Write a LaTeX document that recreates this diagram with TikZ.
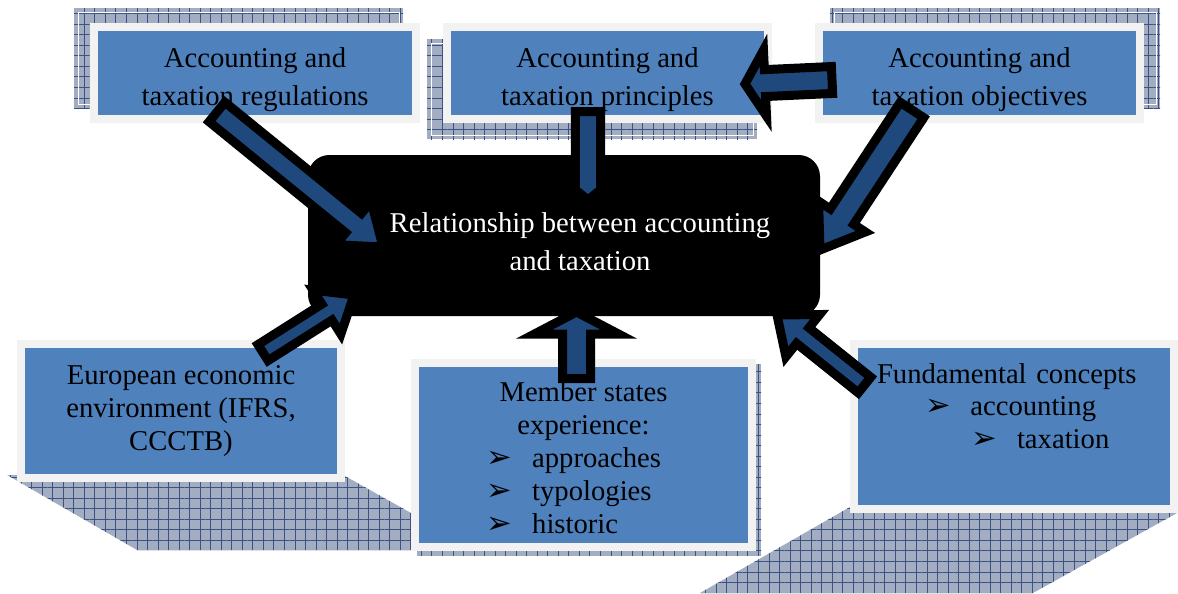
\documentclass[tikz,border=0pt]{standalone}
\usepackage{fontspec}
\setmainfont{Liberation Serif}
\newfontfamily\dingfont{DejaVu Sans}
\usepackage{tikz}
\usetikzlibrary{calc,positioning,patterns.meta,backgrounds}
\definecolor{boxblue}{HTML}{4F81BD}
\definecolor{framegray}{HTML}{F2F2F2}
\definecolor{arrblue}{HTML}{1F497D}
\definecolor{shadefill}{HTML}{A3ADC2}
\definecolor{gridblue}{HTML}{3B5282}
\newcommand{\bul}{\makebox[34pt][l]{\dingfont\fontsize{23}{23}\selectfont ➢}}
\newcommand{\itm}[1]{\makebox[145pt][l]{\bul#1}}
% block arrow: tail, tip, shaft half width, head half width, head length
\newcommand{\barrow}[5]{%
  \coordinate (hb) at ($(#2)!#5!(#1)$);
  \draw[bigarr] ($(#1)!#3!90:(#2)$) -- ($(hb)!#3!90:(#2)$) -- ($(hb)!#4!90:(#2)$) -- (#2)
    -- ($(hb)!#4!-90:(#2)$) -- ($(hb)!#3!-90:(#2)$) -- ($(#1)!#3!-90:(#2)$) -- cycle;}

\begin{document}
\begin{tikzpicture}[x=0.75pt, y=-0.75pt]
\tikzstyle{box}=[rectangle, draw=framegray, fill=boxblue, line width=6pt, inner sep=0pt,
                 minimum width=241pt, minimum height=69pt, align=center,
                 font=\fontsize{21.5}{28.5}\selectfont]
\tikzstyle{relbox}=[rectangle, fill=black, rounded corners=16pt, minimum width=384pt,
                 minimum height=120.75pt, text=white, align=center,
                 font=\fontsize{21.5}{29}\selectfont]
\tikzstyle{shade}=[preaction={fill=shadefill}, pattern={Hatch[angle=0,distance=7.9pt,line width=0.6pt]},
                 pattern color=gridblue]
\tikzstyle{bigarr}=[draw=black, fill=arrblue, line width=6.75pt, line join=miter]
\useasboundingbox (0,0) rectangle (1178,593);
%top row
\node[box] (regs) at (255,73) {\rule{0pt}{25pt}Accounting and\\taxation regulations};
\node[box] (prin) at (607.5,73) {\rule{0pt}{25pt}Accounting and\\taxation principles};
\node[box] (obj) at (979.5,73) {\rule{0pt}{25pt}Accounting and\\taxation objectives};
%bottom row
\node[box, minimum width=240pt, minimum height=100.5pt,
      font=\fontsize{21.5}{24.75}\selectfont] (euro) at (181,411)
     {European economic\\environment (IFRS,\\CCCTB)};
\node[box, minimum width=252.75pt, minimum height=138pt,
      font=\fontsize{21.5}{24.75}\selectfont] (mem) at (583.5,455)
     {\rule{0pt}{19.5pt}Member states\\experience:\\\itm{approaches}\\\itm{typologies}\\\itm{historic}};
\node[box, minimum width=240pt, minimum height=123.75pt, align=left, text width=205.5pt, inner xsep=17.25pt,
      text height=15pt, text depth=80pt, font=\fontsize{21.5}{24.5}\selectfont] (fund) at (1014,426.5)
     {Fundamental concepts\\\hspace*{36pt}\bul accounting\\\hspace*{71pt}\bul taxation};
\node[relbox] (rel) at (564,235.5)
     {\rule{0pt}{24pt}\hspace*{24pt}Relationship between accounting\\\hspace*{24pt}and taxation};
\begin{scope}[on background layer]
\path[shade] (74,8) rectangle (403,108);
\draw[white, line width=0.6pt] (78,12) rectangle (399,104);
\path[shade] (427,39) rectangle (757,139);
\draw[white, line width=0.6pt] (431,43) rectangle (753,135);
\path[shade] (830,8) rectangle (1160,108);
\draw[white, line width=0.6pt] (834,12) rectangle (1156,104);
\path[shade] (7,475) -- (137,550) -- (411,550) -- (411,513) -- (345,476) -- cycle;
\path[shade] (417,364) rectangle (761,556);
\path[shade] (850,507) -- (700,593) -- (1033,593) -- (1177,513) -- cycle;
\end{scope}
%arrow ends
\coordinate (t1) at ([shift={(-38,39)}]regs.center);
\coordinate (p1) at ([shift={(-181,11.5)}]rel.center);
\coordinate (t2) at ([shift={(-19.5,38.5)}]prin.center);
\coordinate (p2) at ([shift={(24,-35.5)}]rel.center);
\coordinate (t3) at ([shift={(-147.5,7)}]obj.center);
\coordinate (p3) at ([shift={(137.5,11)}]prin.center);
\coordinate (t4) at ([shift={(-67.5,37)}]obj.center);
\coordinate (p4) at ([shift={(256,14.5)}]rel.center);
\coordinate (t5) at ([shift={(82,-58.4)}]euro.center);
\coordinate (p5) at ([shift={(-210,59.5)}]rel.center);
\coordinate (t6) at ([shift={(-7,-76.5)}]mem.center);
\coordinate (p6) at ([shift={(12.5,76.5)}]rel.center);
\coordinate (t7) at ([shift={(-149.5,-41.5)}]fund.center);
\coordinate (p7) at ([shift={(213,79.5)}]rel.center);
\foreach \i/\j/\sw/\hw/\hl in {t1/p1/9.4pt/21pt/28.5pt, t2/p2/9.4pt/16.5pt/13.5pt,
    t3/p3/10.1pt/24.75pt/15pt, t4/p4/10.5pt/21pt/30pt, t5/p5/7.1pt/19.5pt/24pt,
    t6/p6/10.5pt/31.5pt/16.5pt, t7/p7/7.5pt/20.25pt/24.75pt}{\barrow{\i}{\j}{\sw}{\hw}{\hl}}
\end{tikzpicture}
\end{document}
